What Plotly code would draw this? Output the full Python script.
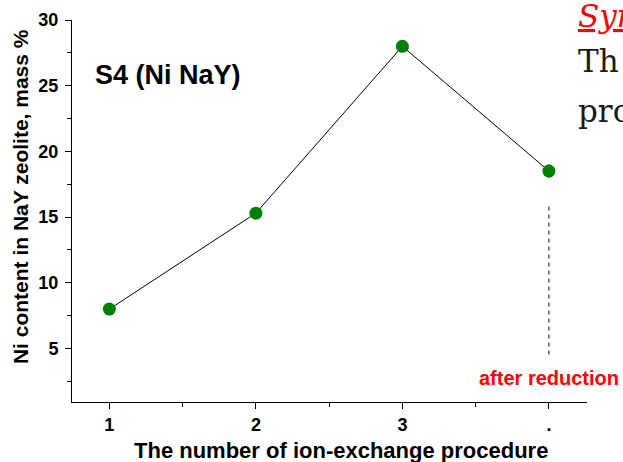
import plotly.graph_objects as go

# Data
procedure = [1, 2, 3, 4]
ni_content = [8.0, 15.3, 28.0, 18.5]
ni_error = [0.3, 0.3, 0.3, 0.5]
x_tick_vals = [1, 2, 3, 4]
x_tick_text = ["1", "2", "3", "."]
y_tick_vals = [5, 10, 15, 20, 25, 30]
reduction_x = [4, 4]
reduction_y = [15.8, 4.4]

FONT = "Liberation Sans, Arial, sans-serif"
SERIF = "DejaVu Serif, serif"

fig = go.Figure()

fig.add_trace(go.Scatter(
    x=reduction_x, y=reduction_y, mode="lines",
    line=dict(color="black", width=1, dash="4px,4px"),
    hoverinfo="skip", showlegend=False,
))

fig.add_trace(go.Scatter(
    x=procedure, y=ni_content, mode="lines+markers",
    line=dict(color="black", width=1),
    marker=dict(color="#008000", size=13, line=dict(width=0)),
    error_y=dict(type="data", array=ni_error, color="#008000", thickness=2, width=0),
    showlegend=False,
))

fig.update_layout(
    width=623, height=462,
    margin=dict(l=72, r=36, t=20, b=60),
    paper_bgcolor="white", plot_bgcolor="white",
    font=dict(family=FONT, color="black"),
    xaxis=dict(
        range=[0.745, 4.26], automargin=False,
        tickvals=x_tick_vals, ticktext=x_tick_text,
        ticks="outside", ticklen=6, tickwidth=1, tickcolor="black",
        minor=dict(dtick=0.5, tick0=0.5, ticks="outside", ticklen=4, tickcolor="black", showgrid=False),
        showline=True, linecolor="black", linewidth=1,
        showgrid=False, zeroline=False,
        tickfont=dict(size=18, family=FONT, weight="bold"),
    ),
    yaxis=dict(
        range=[0.93, 30], automargin=False,
        tickvals=y_tick_vals,
        ticks="outside", ticklen=6, tickwidth=1, tickcolor="black",
        ticklabelstandoff=3,
        minor=dict(dtick=2.5, tick0=0, ticks="outside", ticklen=4, tickcolor="black", showgrid=False),
        showline=True, linecolor="black", linewidth=1,
        showgrid=False, zeroline=False,
        tickfont=dict(size=18, family=FONT, weight="bold"),
    ),
    annotations=[
        dict(text="<b>The number of ion-exchange procedure</b>", xref="paper", yref="paper",
             x=0.522, y=-0.1257, xanchor="center", yanchor="middle",
             showarrow=False, font=dict(size=22, family=FONT, color="black")),
        dict(text="<b>Ni content in NaY zeolite, mass %</b>", xref="paper", yref="paper",
             x=-0.101, y=0.539, xanchor="center", yanchor="middle", textangle=-90,
             showarrow=False, font=dict(size=21, family=FONT, color="black")),
        dict(text="<b>S4 (Ni NaY)</b>", xref="paper", yref="paper",
             x=0.040, y=0.855, xanchor="left", yanchor="middle",
             showarrow=False, font=dict(size=27, family=FONT, color="black")),
        dict(text="<b>after reduction</b>", xref="x", yref="y",
             x=4, y=2.75, xanchor="center", yanchor="middle",
             showarrow=False, font=dict(size=20, family=FONT, color="red")),
    ],
)

# slide text behind the chart (clipped at the right edge in the reference)
slide_lines = [("<i><u>Sym</u></i>", "red", 4), ("Th", "#1a1a1a", -41), ("pro", "#1a1a1a", -91)]
for txt, col, dy in slide_lines:
    fig.add_annotation(text=txt, xref="paper", yref="paper", x=1.0, y=1.0,
                       xshift=-11, yshift=dy, xanchor="left", yanchor="middle",
                       showarrow=False, font=dict(size=31, family=SERIF, color=col))

fig.write_html("out.html")
